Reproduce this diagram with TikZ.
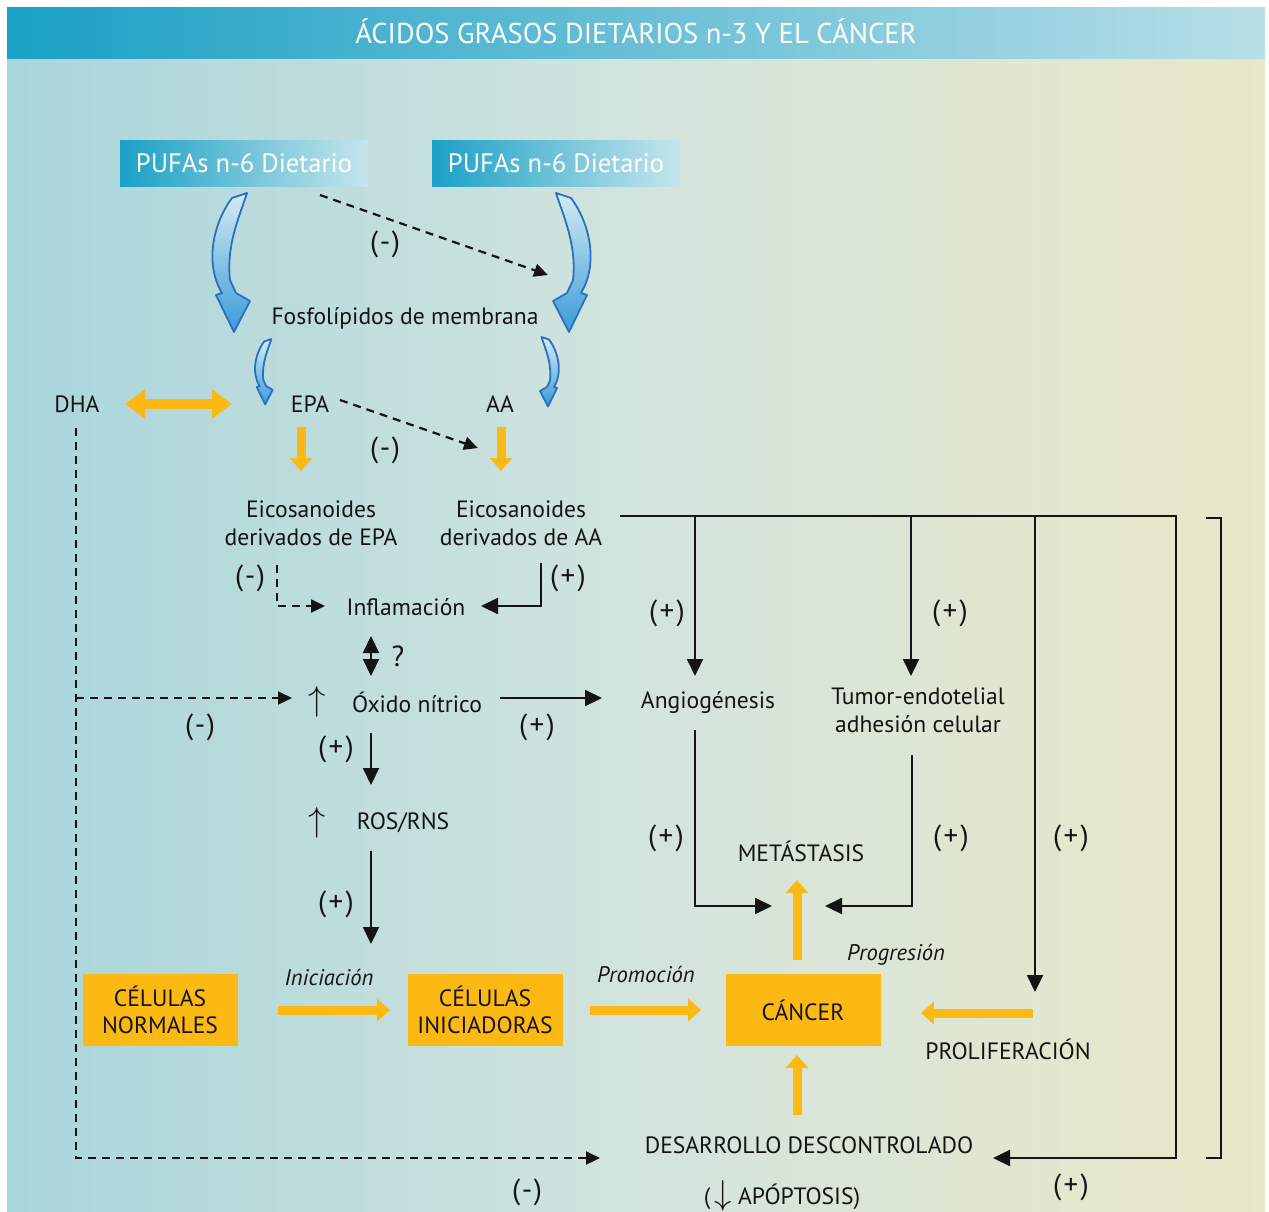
\documentclass[tikz,border=0pt]{standalone}
\usepackage{fontspec}
\setmainfont{PT Sans}
\usetikzlibrary{arrows.meta}

\definecolor{headdark}{HTML}{1AA0C6}
\definecolor{headlight}{HTML}{B8DFE7}
\definecolor{bodyleft}{HTML}{A9D5DC}
\definecolor{bodymid}{HTML}{D2E4DD}
\definecolor{bodyright}{HTML}{E9E8C8}
\definecolor{cellyellow}{HTML}{FDB913}
\definecolor{inkgray}{HTML}{141414}
\definecolor{ribbonline}{HTML}{2C6FC0}
\definecolor{ribbonlight}{HTML}{D4ECF2}
\definecolor{ribbondark}{HTML}{3A9BD8}

\newcommand{\plussign}{(\kern1.2pt+\kern1.2pt)}
\newcommand{\minussign}{(\kern0.8pt-\kern0.8pt)}

\tikzset{
  bendarrow/.pic={
    \path[draw=ribbonline, line width=0.9pt, line join=round,
          top color=ribbonlight, bottom color=ribbondark]
      (-8,3) -- (7,-2) .. controls (0,20) and (-14,50) .. (-10,85)
      -- (-4,98) -- (10,106) -- (-6,137) -- (-24,100) -- (-18,98)
      .. controls (-35,70) and (-28,30) .. (-8,3) -- cycle;
  }
}

\begin{document}
\begin{tikzpicture}[x=0.5pt, y=-0.5pt, >={Triangle[length=8.5pt,width=8pt]},
  lbl/.style={font=\fontsize{11.8}{14}\selectfont, text=inkgray, inner sep=0pt},
  two/.style={lbl, align=center},
  sign/.style={font=\fontsize{14.5}{15}\selectfont, text=inkgray, inner sep=0pt},
  stage/.style={font=\fontsize{11.3}{13}\selectfont\itshape, text=inkgray, inner sep=0pt},
  upsym/.style={font=\fontsize{17}{17}\selectfont, text=inkgray, inner sep=0pt},
  pufa/.style={left color=headdark, right color=headlight!80!white, text=white,
    minimum width=124pt, minimum height=23pt, inner sep=0pt,
    font=\fontsize{13.3}{15}\selectfont},
  cell/.style={fill=cellyellow, minimum width=77.5pt, minimum height=36pt,
    inner sep=0pt, align=center, text=inkgray,
    font=\fontsize{11.8}{13.5}\selectfont},
  blk/.style={draw=inkgray, line width=1.1pt, ->},
  ln/.style={draw=inkgray, line width=1.1pt},
  dsh/.style={draw=inkgray, line width=1.1pt, dash pattern=on 4pt off 3pt,
    -{Triangle[length=7pt,width=6.5pt]}},
  yarr/.style={draw=cellyellow, line width=4.5pt,
    -{Triangle[length=6.5pt,width=11pt]}},
  ydbl/.style={draw=cellyellow, line width=5pt,
    {Triangle[length=10pt,width=14pt]}-{Triangle[length=10pt,width=14pt]}}
]
\useasboundingbox (0,0) rectangle (1269,1211);

% background and title band
\shade[left color=bodyleft, right color=bodyright, middle color=bodymid]
  (7,58) rectangle (1265,1211);
\shade[left color=headdark, right color=headlight] (7,7) rectangle (1265,58);
\node[font=\fontsize{14.3}{16}\selectfont, text=white] (title) at (636,31)
  {ÁCIDOS GRASOS DIETARIOS n-3 Y EL CÁNCER};

% dietary sources
\node[pufa] (pufaA) at (244,163) {PUFAs n-6 Dietario};
\node[pufa] (pufaB) at (556,163) {PUFAs n-6 Dietario};
\pic (ribA) at (240,195) {bendarrow};
\pic[xscale=-1] (ribB) at (563,195) {bendarrow};
\pic[scale=0.47] (ribC) at (268,340) {bendarrow};
\pic[xscale=-0.5, yscale=0.5] (ribD) at (545,338) {bendarrow};

\node[lbl] (fosfo) at (405,318) {Fosfolípidos de membrana};
\node[lbl] (dha) at (77,404) {DHA};
\node[lbl] (epa) at (310,404) {EPA};
\node[lbl] (aa) at (500,404) {AA};
\node[two] (eicoEPA) at (311,523) {Eicosanoides\\derivados de EPA};
\node[two] (eicoAA) at (521,523) {Eicosanoides\\derivados de AA};
\node[lbl] (infl) at (406,607) {Inflamación};
\node[upsym] (upNO) at (317,702) {$\uparrow$};
\node[lbl] (oxido) at (417,702) {Óxido nítrico};
\node[upsym] (upROS) at (317,823) {$\uparrow$};
\node[lbl] (ros) at (403,823) {ROS/RNS};
\node[lbl] (angio) at (708,702) {Angiogénesis};
\node[two] (tumor) at (918,710) {Tumor-endotelial\\adhesión celular};
\node[lbl] (meta) at (801,851) {METÁSTASIS};
\node[lbl] (prolif) at (1008,1049) {PROLIFERACIÓN};
\node[lbl] (desarr) at (809,1145) {DESARROLLO DESCONTROLADO};
\node[lbl] (apopt) at (782,1196)
  {(\kern2pt{\fontsize{16}{16}\selectfont$\downarrow$}\ APÓPTOSIS)};

% cell stages
\node[cell] (normal) at (160,1010) {CÉLULAS\\NORMALES};
\node[cell] (inic) at (485,1010) {CÉLULAS\\INICIADORAS};
\node[cell] (cancer) at (803,1010) {CÁNCER};
\node[stage] (sIni) at (329,977) {Iniciación};
\node[stage] (sPro) at (646,974) {Promoción};
\node[stage] (sPrg) at (896,955) {Progresión};

% connector ends
\coordinate (pufaTail) at (320,195);  \coordinate (pufaHead) at (548,275);
\coordinate (epaTail) at (340,400);   \coordinate (epaHead) at (478,448);
\coordinate (dhaArr) at (125,404);    \coordinate (epaArr) at (232,404);
\coordinate (epaDn) at (301,427);     \coordinate (epaDnEnd) at (301,471);
\coordinate (aaDn) at (501,427);      \coordinate (aaDnEnd) at (501,471);
\coordinate (eEpaOut) at (277,565);   \coordinate (inflL) at (325,606);
\coordinate (eAaOut) at (541,563);    \coordinate (inflR) at (481,606);
\coordinate (inflDn) at (371,636);    \coordinate (noUp) at (371,676);
\coordinate (dhaDn) at (76,428);      \coordinate (desL) at (600,1158);
\coordinate (dhaMid) at (76,698);     \coordinate (noL) at (292,698);
\coordinate (noR) at (500,698);       \coordinate (angioL) at (602,698);
\coordinate (noDn) at (371,733);      \coordinate (rosUp) at (371,785);
\coordinate (rosDn) at (371,851);     \coordinate (iniUp) at (371,944);
\coordinate (trunkL) at (620,516);    \coordinate (trunkR) at (1176,516);
\coordinate (trunkBot) at (1176,1158); \coordinate (desR) at (993,1158);
\coordinate (brAngio) at (695,516);   \coordinate (angioTop) at (695,676);
\coordinate (brTumor) at (911,516);   \coordinate (tumorTop) at (911,676);
\coordinate (brProl) at (1035,516);   \coordinate (prolTop) at (1035,992);
\coordinate (angioOut) at (695,730);  \coordinate (metaL) at (772,906);
\coordinate (tumorOut) at (912,755);  \coordinate (metaR) at (825,906);
\coordinate (canUp) at (797,960);     \coordinate (metaDn) at (797,880);
\coordinate (prolTail) at (1033,1013);
\coordinate (desUp) at (797,1115);    \coordinate (canDn) at (797,1055);
\coordinate (brkA) at (1206,518);     \coordinate (brkB) at (1221,1158);
\coordinate (brkC) at (1206,1158);

% connectors
\draw[dsh] (pufaTail) -- (pufaHead);
\draw[dsh] (epaTail) -- (epaHead);
\draw[ydbl] (dhaArr) -- (epaArr);
\draw[yarr] (epaDn) -- (epaDnEnd);
\draw[yarr] (aaDn) -- (aaDnEnd);
\draw[dsh] (eEpaOut) |- (inflL);
\draw[blk] (eAaOut) |- (inflR);
\draw[blk, <->] (inflDn) -- (noUp);
\draw[dsh] (dhaDn) |- (desL);
\draw[dsh] (dhaMid) -- (noL);
\draw[blk] (noR) -- (angioL);
\draw[blk] (noDn) -- (rosUp);
\draw[blk] (rosDn) -- (iniUp);
\draw[blk] (trunkL) -- (trunkR) -- (trunkBot) -- (desR);
\draw[blk] (brAngio) -- (angioTop);
\draw[blk] (brTumor) -- (tumorTop);
\draw[blk] (brProl) -- (prolTop);
\draw[blk] (angioOut) |- (metaL);
\draw[blk] (tumorOut) |- (metaR);
\draw[ln] (brkA) -| (brkB) -- (brkC);
\draw[yarr] (canUp) -- (metaDn);
\draw[yarr] (desUp) -- (canDn);
\draw[yarr, shorten <=20pt, shorten >=8.5pt] (normal) -- (inic);
\draw[yarr, shorten <=13.5pt, shorten >=12pt] (inic) -- (cancer);
\draw[yarr, shorten >=20pt] (prolTail) -- (cancer.east |- prolTail);

% signs
\node[sign] (s1) at (385,244) {\minussign};
\node[sign] (s2) at (385,450) {\minussign};
\node[sign] (s3) at (250,578) {\minussign};
\node[sign] (s4) at (568,578) {\plussign};
\node[sign] (s5) at (398,656) {?};
\node[sign] (s6) at (200,727) {\minussign};
\node[sign] (s7) at (537,727) {\plussign};
\node[sign] (s8) at (336,749) {\plussign};
\node[sign] (s9) at (336,904) {\plussign};
\node[sign] (s10) at (667,613) {\plussign};
\node[sign] (s11) at (950,613) {\plussign};
\node[sign] (s12) at (666,838) {\plussign};
\node[sign] (s13) at (951,838) {\plussign};
\node[sign] (s14) at (1071,838) {\plussign};
\node[sign] (s15) at (527,1192) {\minussign};
\node[sign] (s16) at (1071,1187) {\plussign};
\end{tikzpicture}
\end{document}
